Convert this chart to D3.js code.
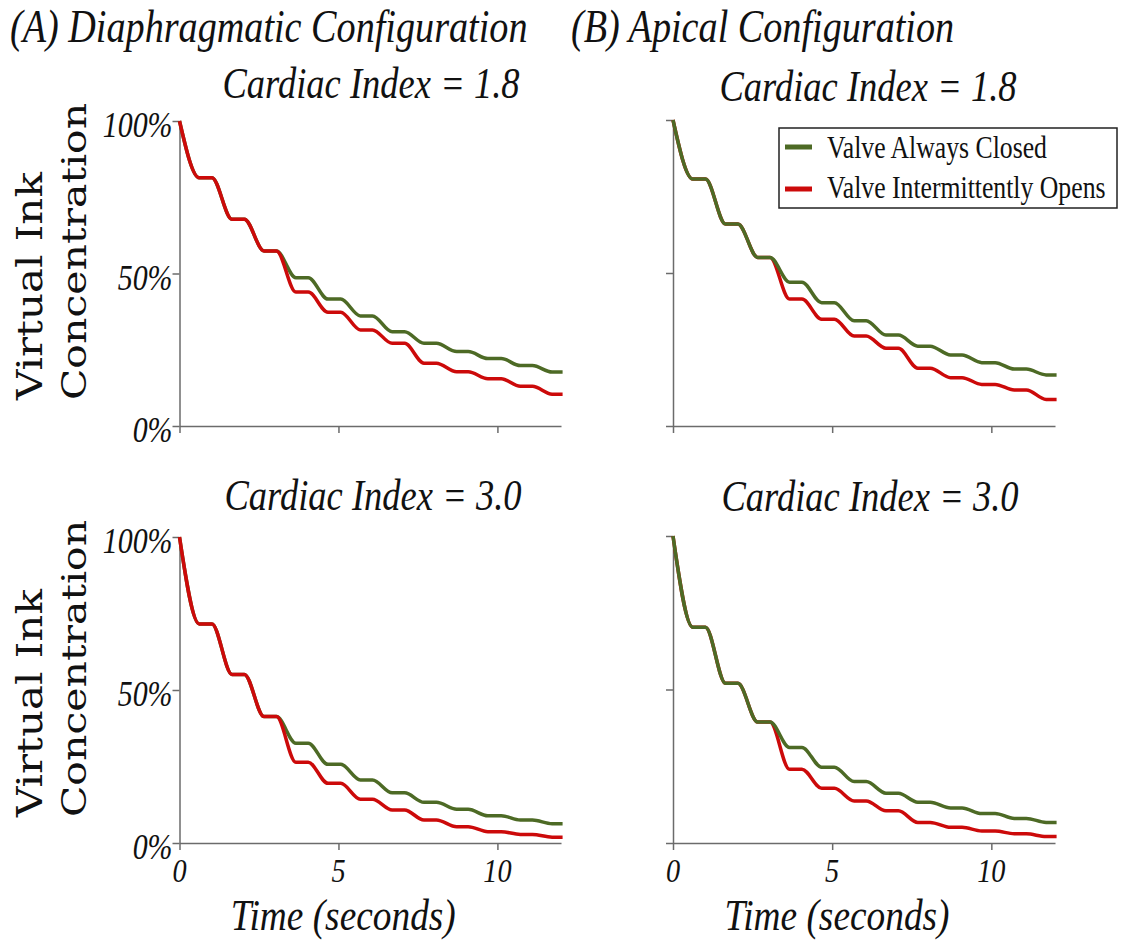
<!DOCTYPE html>
<html>
<head>
<meta charset="utf-8">
<script src="https://cdn.jsdelivr.net/npm/d3@7"></script>
<style>
  body { margin: 0; background: #fff; }
  svg { display: block; }
</style>
</head>
<body>
<div id="chart"></div>
<script>
// plateau timing of each beat (seconds), shared by all curves
var plateauStart = [0.62, 1.65, 2.66, 3.66, 4.67, 5.69, 6.69, 7.69, 8.72, 9.70, 10.72, 11.72];
var plateauEnd   = [1.02, 2.04, 3.05, 4.05, 5.07, 6.07, 7.08, 8.08, 9.08, 10.12, 11.10, 12.05];

// concentration level reached at each beat
var diaph18Closed = [0.814, 0.678, 0.574, 0.486, 0.416, 0.361, 0.309, 0.271, 0.244, 0.221, 0.198, 0.177];
var diaph18Opens  = [0.814, 0.678, 0.574, 0.439, 0.373, 0.315, 0.271, 0.206, 0.178, 0.155, 0.130, 0.104];
var diaph30Closed = [0.716, 0.551, 0.413, 0.326, 0.257, 0.206, 0.164, 0.133, 0.110, 0.089, 0.075, 0.063];
var diaph30Opens  = [0.716, 0.551, 0.413, 0.264, 0.195, 0.143, 0.108, 0.075, 0.053, 0.037, 0.028, 0.019];
var apical18Closed = [0.807, 0.660, 0.551, 0.470, 0.403, 0.344, 0.297, 0.261, 0.232, 0.207, 0.186, 0.167];
var apical18Opens  = [0.807, 0.660, 0.551, 0.415, 0.349, 0.294, 0.254, 0.189, 0.158, 0.136, 0.118, 0.087];
var apical30Closed = [0.703, 0.520, 0.394, 0.311, 0.247, 0.200, 0.162, 0.133, 0.114, 0.096, 0.080, 0.067];
var apical30Opens  = [0.703, 0.520, 0.394, 0.240, 0.178, 0.137, 0.105, 0.067, 0.051, 0.039, 0.030, 0.021];

var xTicks = [0, 5, 10];
var yTicks = [0, 0.5, 1];
var yTickLabels = ["0%", "50%", "100%"];
var seriesNames = ["Valve Always Closed", "Valve Intermittently Opens"];
var seriesColors = ["#4d6a25", "#cc0a0a"];

var W = 1128, H = 941;
var SX = 0.83; // horizontal squeeze of the lettering
var serif = "'Liberation Serif', 'Times New Roman', serif";

var svg = d3.select("#chart").append("svg")
    .attr("width", W).attr("height", H);
svg.append("rect").attr("width", W).attr("height", H).attr("fill", "#fff");

function label(x, y, txt, size, opts) {
  opts = opts || {};
  return svg.append("text")
      .attr("transform", "translate(" + x + "," + y + ") scale(" + SX + ",1)" + (opts.rotate ? " rotate(-90)" : ""))
      .attr("text-anchor", opts.anchor || "start")
      .style("font-family", opts.family || serif)
      .style("font-style", opts.italic === false ? "normal" : "italic")
      .style("font-size", size + "px")
      .attr("fill", "#111")
      .text(txt);
}

function toPoints(levels) {
  var pts = [[0, 1]];
  levels.forEach(function(v, i) {
    pts.push([plateauStart[i], v]);
    pts.push([plateauEnd[i], v]);
  });
  return pts;
}

var panels = [
  { x0: 179.5, x1: 561, yTop: 121, yBot: 426, data: [diaph18Closed, diaph18Opens], order: [0, 1], leftLabels: true, bottomLabels: false },
  { x0: 179.5, x1: 561, yTop: 537, yBot: 843, data: [diaph30Closed, diaph30Opens], order: [0, 1], leftLabels: true, bottomLabels: true },
  { x0: 673, x1: 1055, yTop: 120, yBot: 426, data: [apical18Closed, apical18Opens], order: [1, 0], leftLabels: false, bottomLabels: false },
  { x0: 673, x1: 1055, yTop: 536, yBot: 843, data: [apical30Closed, apical30Opens], order: [1, 0], leftLabels: false, bottomLabels: true }
];

panels.forEach(function(p) {
  var x = d3.scaleLinear().domain([0, 12]).range([p.x0, p.x1]);
  var y = d3.scaleLinear().domain([0, 1]).range([p.yBot, p.yTop]);
  var g = svg.append("g");

  g.append("g")
      .attr("transform", "translate(0," + p.yBot + ")")
      .call(d3.axisBottom(x).tickValues(xTicks).tickSize(7).tickSizeOuter(0).tickFormat(""));
  g.append("g")
      .attr("transform", "translate(" + p.x0 + ",0)")
      .call(d3.axisLeft(y).tickValues(yTicks).tickSize(7).tickSizeOuter(0).tickFormat(""));
  g.selectAll(".domain, .tick line").attr("stroke", "#6b6b6b").attr("stroke-width", 1.5);

  var line = d3.line()
      .x(function(d) { return x(d[0]); })
      .y(function(d) { return y(d[1]); })
      .curve(d3.curveMonotoneX);

  p.order.forEach(function(si) {
    g.append("path")
        .attr("d", line(toPoints(p.data[si])))
        .attr("fill", "none")
        .attr("stroke", seriesColors[si])
        .attr("stroke-width", 3.5)
        .attr("stroke-linejoin", "round");
  });

  if (p.leftLabels) {
    yTicks.forEach(function(t, i) {
      label(p.x0 - 7, y(t) + 16, yTickLabels[i], 36, { anchor: "end" });
    });
    label(42, p.yBot - 26, "Virtual Ink", 42, { rotate: true, italic: false, family: "'DejaVu Serif', serif" });
    label(86, p.yBot - 26, "Concentration", 41, { rotate: true, italic: false, family: "'DejaVu Serif', serif" });
  }
  if (p.bottomLabels) {
    xTicks.forEach(function(t) {
      label(x(t), p.yBot + 39, String(t), 34, { anchor: "middle" });
    });
    label((p.x0 + p.x1) / 2 - 27, p.yBot + 87, "Time (seconds)", 45, { anchor: "middle" });
  }
});

// titles
label(10, 42, "(A) Diaphragmatic Configuration", 46);
label(571, 42, "(B) Apical Configuration", 46);
label(371, 98, "Cardiac Index = 1.8", 44, { anchor: "middle" });
label(868, 101, "Cardiac Index = 1.8", 44, { anchor: "middle" });
label(373, 510, "Cardiac Index = 3.0", 44, { anchor: "middle" });
label(870, 511, "Cardiac Index = 3.0", 44, { anchor: "middle" });

// legend
var legend = svg.append("g");
legend.append("rect")
    .attr("x", 779).attr("y", 128).attr("width", 338).attr("height", 80)
    .attr("fill", "#fff").attr("stroke", "#222").attr("stroke-width", 1.5);
seriesNames.forEach(function(name, i) {
  var cy = 147 + i * 42;
  legend.append("line")
      .attr("x1", 785).attr("x2", 812).attr("y1", cy).attr("y2", cy)
      .attr("stroke", seriesColors[i]).attr("stroke-width", 5);
  label(827, 158 + i * 40, name, 31, { italic: false });
});
</script>
</body>
</html>
